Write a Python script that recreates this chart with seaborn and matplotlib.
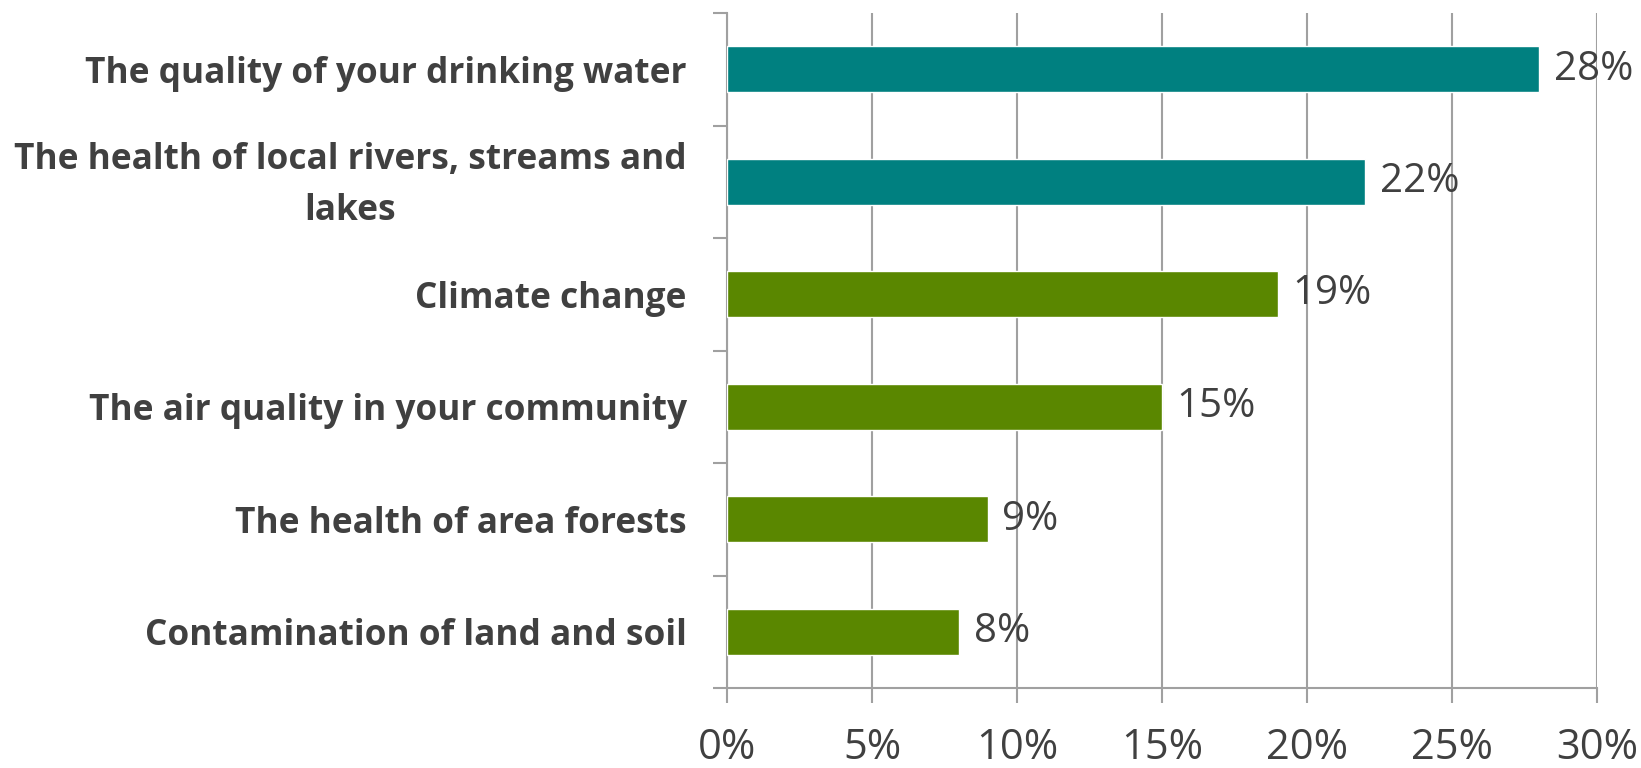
import matplotlib
matplotlib.use("Agg")
import matplotlib.pyplot as plt
import matplotlib.transforms as mtransforms
import seaborn as sns
import pandas as pd
import numpy as np

categories = [
    "The quality of your drinking water",
    "The health of local rivers, streams and\nlakes",
    "Climate change",
    "The air quality in your community",
    "The health of area forests",
    "Contamination of land and soil",
]
values = [28, 22, 19, 15, 9, 8]
bar_colors = ["#008080", "#008080", "#5A8700", "#5A8700", "#5A8700", "#5A8700"]
x_ticks = [0, 5, 10, 15, 20, 25, 30]
x_tick_labels = ["0%", "5%", "10%", "15%", "20%", "25%", "30%"]

sns.set_theme(style="white")
plt.rcParams["font.family"] = ["Open Sans", "DejaVu Sans"]

df = pd.DataFrame({"category": categories, "value": values})

fig = plt.figure(figsize=(16.41, 7.68), dpi=100)
ax = fig.add_axes([727 / 1641, 1 - 688 / 768, (1597 - 727) / 1641, (688 - 13) / 768])

sns.barplot(data=df, y="category", x="value", hue="category",
            palette=dict(zip(categories, bar_colors)), legend=False,
            width=0.41, saturation=1, ax=ax, zorder=3)

ax.set_xlim(0, 30)
ax.set_ylim(5.5, -0.5)
ax.set_xticks(x_ticks)
ax.set_xticklabels(x_tick_labels)
ax.set_xlabel("")
ax.set_ylabel("")

grid_c = "#A0A0A0"
ax.grid(axis="x", color=grid_c, linewidth=1.5, zorder=0)
ax.grid(axis="y", visible=False)
for s in ["top", "right"]:
    ax.spines[s].set_visible(False)
for s in ["left", "bottom"]:
    ax.spines[s].set_color(grid_c)
    ax.spines[s].set_linewidth(1.5)

ax.tick_params(axis="x", length=15 * 0.72, width=1.5, color=grid_c, pad=17,
               labelsize=30, labelcolor="#404040", bottom=True)
ax.set_yticks(range(len(categories)))
ax.set_yticklabels(categories, fontweight="bold", fontsize=25.4, color="#404040",
                   multialignment="center", linespacing=1.55)
ax.tick_params(axis="y", which="major", length=0, pad=29)
ax.set_yticks(np.arange(-0.5, len(categories), 1.0), minor=True)
ax.tick_params(axis="y", which="minor", length=14 * 0.72, width=1.5, color=grid_c, left=True)

# nudge the two-line label up slightly to match reference centring
lbl = ax.get_yticklabels()[1]
lbl.set_transform(lbl.get_transform() + mtransforms.ScaledTranslation(0, 6 / 72, fig.dpi_scale_trans))

for i, v in enumerate(values):
    ax.text(v + 0.5, i, f"{v}%", va="center", ha="left", fontsize=29, color="#404040", zorder=4)

fig.savefig("out.png", dpi=100)
